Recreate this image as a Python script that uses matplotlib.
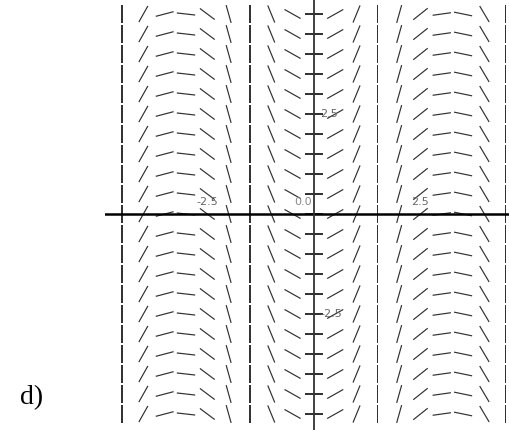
import numpy as np
import matplotlib.pyplot as plt

# slope field: the slope only changes with x
x_cols = [-4.5, -4.0, -3.5, -3.0, -2.5, -2.0, -1.5, -1.0, -0.5, 0.0,
          0.5, 1.0, 1.5, 2.0, 2.5, 3.0, 3.5, 4.0, 4.5]
slopes = [np.inf, 1.9, 0.28, -0.12, -0.8, -3.8, np.inf, -2.6, -0.6, 0.0,
          0.6, 2.6, np.inf, 3.8, 0.85, 0.15, -0.22, -1.8, np.inf]
y_rows = [-5.0, -4.5, -4.0, -3.5, -3.0, -2.5, -2.0, -1.5, -1.0, -0.5, 0.0,
          0.5, 1.0, 1.5, 2.0, 2.5, 3.0, 3.5, 4.0, 4.5, 5.0]
x_labels = [(-2.5, '-2.5'), (2.5, '2.5')]
y_labels = [(2.5, '2.5'), (-2.5, '-2.5')]

X, Y = np.meshgrid(x_cols, y_rows)
ang = np.arctan(np.array(slopes))
U = np.tile(np.cos(ang), (len(y_rows), 1))
V = np.tile(np.sin(ang), (len(y_rows), 1))

fig = plt.figure(figsize=(5.1, 4.3), dpi=100)
ax = fig.add_axes([105/510, 0, 405/510, 1])
ax.set_xlim(-4.9, 4.6)
ax.set_ylim(-5.4, 5.35)
ax.axis('off')

ax.quiver(X, Y, U, V, angles='xy', pivot='mid', scale_units='inches', scale=1/0.185,
          headwidth=0, headlength=0, headaxislength=0, units='dots', width=1.2,
          color='#333333')

ax.axhline(0, color='black', lw=1.8)
ax.axvline(0, color='#333333', lw=1.3)

for x, s in x_labels:
    ax.text(x, 0.18, s, ha='center', va='bottom', fontsize=8, color='#666666')
ax.text(-0.05, 0.18, '0.0', ha='right', va='bottom', fontsize=8, color='#888888')
for y, s in y_labels:
    ax.text(0.15, y, s, ha='left', va='center', fontsize=8, color='#666666')

fig.text(20/510, 1 - 398/430, 'd)', fontsize=20, family='Liberation Serif', va='center')

fig.savefig('out.png', dpi=100)
